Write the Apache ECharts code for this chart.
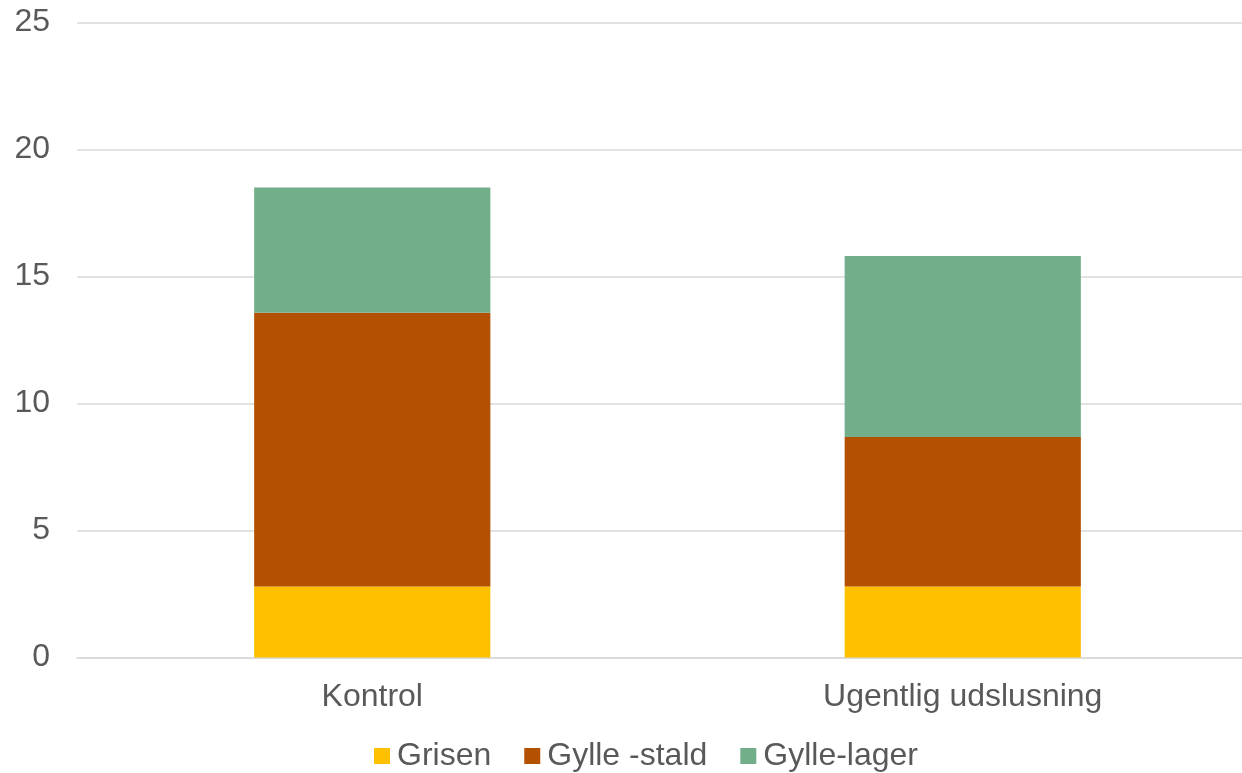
<!DOCTYPE html>
<html>
<head>
<meta charset="utf-8">
<script src="https://cdn.jsdelivr.net/npm/echarts@6/dist/echarts.min.js"></script>
<style>
html,body{margin:0;padding:0;background:#fff;overflow:hidden;}
#chart{width:1258px;height:773px;}
</style>
</head>
<body>
<div id="chart"></div>
<script>
const categories = ['Kontrol', 'Ugentlig udslusning'];
const grisen = [2.8, 2.8];
const gylleStald = [10.77, 5.88];
const gylleLager = [4.93, 7.13];
const yTicks = [0, 5, 10, 15, 20, 25];

const chart = echarts.init(document.getElementById('chart'));
const textColor = '#595959';
const font = 'Liberation Sans, Arial, sans-serif';
chart.setOption({
  animation: false,
  textStyle: { fontFamily: font },
  grid: { left: 77, right: 0, top: 22.5, bottom: 115.5, containLabel: false },
  legend: {
    left: 374, top: 740, padding: 0,
    itemWidth: 16, itemHeight: 16, itemGap: 33,
    icon: 'rect',
    textStyle: { fontSize: 32, color: textColor, fontFamily: font, padding: [0, 0, 0, 2] },
    data: ['Grisen', 'Gylle -stald', 'Gylle-lager']
  },
  xAxis: {
    type: 'category',
    data: categories,
    axisLine: { lineStyle: { color: '#d9d9d9', width: 1.5 } },
    axisTick: { show: false },
    axisLabel: { fontSize: 32, color: textColor, margin: 24, fontFamily: font }
  },
  yAxis: {
    type: 'value',
    min: yTicks[0], max: yTicks[yTicks.length - 1], interval: 5,
    axisLine: { show: false },
    axisTick: { show: false },
    splitLine: { lineStyle: { color: '#d9d9d9', width: 1.5 } },
    axisLabel: { fontSize: 32, color: textColor, margin: 27, fontFamily: font, padding: [7, 0, 0, 0] }
  },
  series: [
    { name: 'Grisen', type: 'bar', stack: 'a', data: grisen, barWidth: '40%', itemStyle: { color: '#ffc000' } },
    { name: 'Gylle -stald', type: 'bar', stack: 'a', data: gylleStald, barWidth: '40%', itemStyle: { color: '#b45100' } },
    { name: 'Gylle-lager', type: 'bar', stack: 'a', data: gylleLager, barWidth: '40%', itemStyle: { color: '#72ae8a' } }
  ]
});
</script>
</body>
</html>
